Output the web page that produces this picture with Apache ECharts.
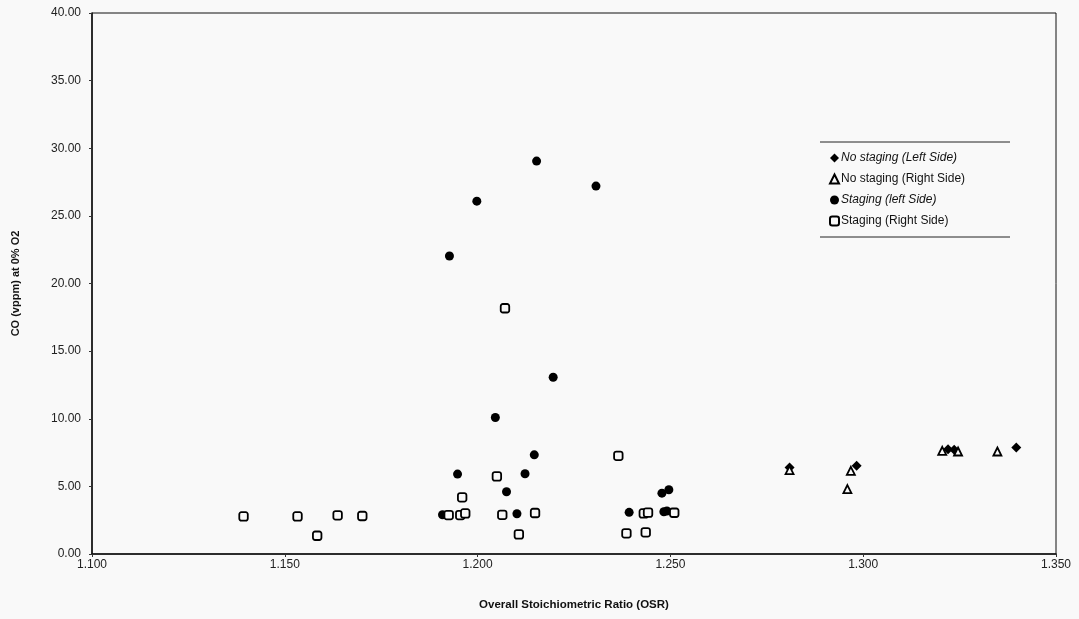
<!DOCTYPE html>
<html>
<head>
<meta charset="utf-8">
<script src="https://cdn.jsdelivr.net/npm/echarts@6/dist/echarts.min.js"></script>
<style>
  html, body { margin: 0; padding: 0; background: #f9f9f9; }
  #chart { width: 1079px; height: 619px; }
</style>
</head>
<body>
<div id="chart"></div>
<script>
// CO emissions vs overall stoichiometric ratio, by staging mode and furnace side
const seriesNames = [
  'No staging (Left Side)',
  'No staging (Right Side)',
  'Staging (left Side)',
  'Staging (Right Side)'
];

// [OSR, CO vppm]
const noStagingLeft = [
  [1.2809, 6.40], [1.2983, 6.52], [1.3220, 7.75], [1.3236, 7.70], [1.3397, 7.88]
];
const noStagingRight = [
  [1.2809, 6.20], [1.2968, 6.15], [1.2959, 4.80], [1.3205, 7.63],
  [1.3246, 7.58], [1.3348, 7.58]
];
const stagingLeft = [
  [1.1927, 22.03], [1.1998, 26.09], [1.2153, 29.05], [1.2307, 27.20],
  [1.2196, 13.07], [1.2046, 10.09], [1.2147, 7.33], [1.1948, 5.91],
  [1.2123, 5.93], [1.2075, 4.60], [1.1909, 2.90], [1.2102, 2.98],
  [1.2393, 3.08], [1.2478, 4.50], [1.2496, 4.75], [1.2483, 3.12],
  [1.2491, 3.18]
];
const stagingRight = [
  [1.1393, 2.78], [1.1533, 2.78], [1.1584, 1.35], [1.1637, 2.86],
  [1.1701, 2.81], [1.2071, 18.17], [1.2365, 7.26], [1.2050, 5.74],
  [1.1960, 4.19], [1.1925, 2.88], [1.1955, 2.88], [1.1968, 3.00],
  [1.2064, 2.90], [1.2149, 3.03], [1.2107, 1.45], [1.2386, 1.53],
  [1.2436, 1.60], [1.2431, 3.00], [1.2442, 3.06], [1.2510, 3.05]
];

const xTitle = 'Overall Stoichiometric Ratio (OSR)';
const yTitle = 'CO (vppm) at 0% O2';

const FONT = '"Liberation Sans", Arial, sans-serif';
const BG = '#f9f9f9';
const chart = echarts.init(document.getElementById('chart'));

chart.setOption({
  backgroundColor: BG,
  animation: false,
  textStyle: { fontFamily: FONT },
  grid: {
    left: 92, right: 23, top: 13, bottom: 65,
    show: true, borderColor: '#111', borderWidth: 1, backgroundColor: 'transparent'
  },
  xAxis: {
    type: 'value', min: 1.1, max: 1.35, interval: 0.05,
    name: xTitle, nameLocation: 'middle', nameGap: 45,
    nameTextStyle: { fontFamily: FONT, fontWeight: 'bold', fontSize: 11.5, color: '#111' },
    axisLine: { lineStyle: { color: '#111', width: 1.5 } },
    axisTick: { show: true, length: 3, lineStyle: { color: '#333' } },
    axisLabel: {
      fontFamily: FONT, fontSize: 12, color: '#222', margin: 5,
      formatter: v => v.toFixed(3)
    },
    splitLine: { show: false }
  },
  yAxis: {
    type: 'value', min: 0, max: 40, interval: 5,
    name: yTitle, nameLocation: 'middle', nameGap: 71, nameRotate: 90,
    nameTextStyle: { fontFamily: FONT, fontWeight: 'bold', fontSize: 11, color: '#111' },
    axisLine: { lineStyle: { color: '#111', width: 1.5 } },
    axisTick: { show: true, length: 3, lineStyle: { color: '#333' } },
    axisLabel: {
      fontFamily: FONT, fontSize: 12, color: '#222', margin: 11,
      formatter: v => v.toFixed(2)
    },
    splitLine: { show: false }
  },
  legend: {
    orient: 'vertical',
    left: 824, top: 147,
    itemWidth: 9, itemHeight: 9, itemGap: 9,
    textStyle: { fontFamily: FONT, fontSize: 12, color: '#111', padding: [0, 0, 0, -3] },
    data: [
      { name: seriesNames[0], textStyle: { fontStyle: 'italic' } },
      { name: seriesNames[1] },
      { name: seriesNames[2], textStyle: { fontStyle: 'italic' } },
      { name: seriesNames[3] }
    ]
  },
  graphic: [
    { type: 'line', shape: { x1: 820, y1: 142, x2: 1010, y2: 142 }, style: { stroke: '#222', lineWidth: 1 } },
    { type: 'line', shape: { x1: 820, y1: 237, x2: 1010, y2: 237 }, style: { stroke: '#222', lineWidth: 1 } }
  ],
  series: [
    {
      name: seriesNames[0], type: 'scatter', data: noStagingLeft,
      symbol: 'diamond', symbolSize: 10,
      itemStyle: { color: '#000', opacity: 1 }
    },
    {
      name: seriesNames[1], type: 'scatter', data: noStagingRight,
      symbol: 'triangle', symbolSize: 8,
      itemStyle: { color: BG, borderColor: '#000', borderWidth: 1.8, opacity: 1 }
    },
    {
      name: seriesNames[2], type: 'scatter', data: stagingLeft,
      symbol: 'circle', symbolSize: 9,
      itemStyle: { color: '#000', opacity: 1 }
    },
    {
      name: seriesNames[3], type: 'scatter', data: stagingRight,
      symbol: 'roundRect', symbolSize: 8.5,
      itemStyle: { color: BG, borderColor: '#000', borderWidth: 1.8, opacity: 1 }
    }
  ]
});
</script>
</body>
</html>
